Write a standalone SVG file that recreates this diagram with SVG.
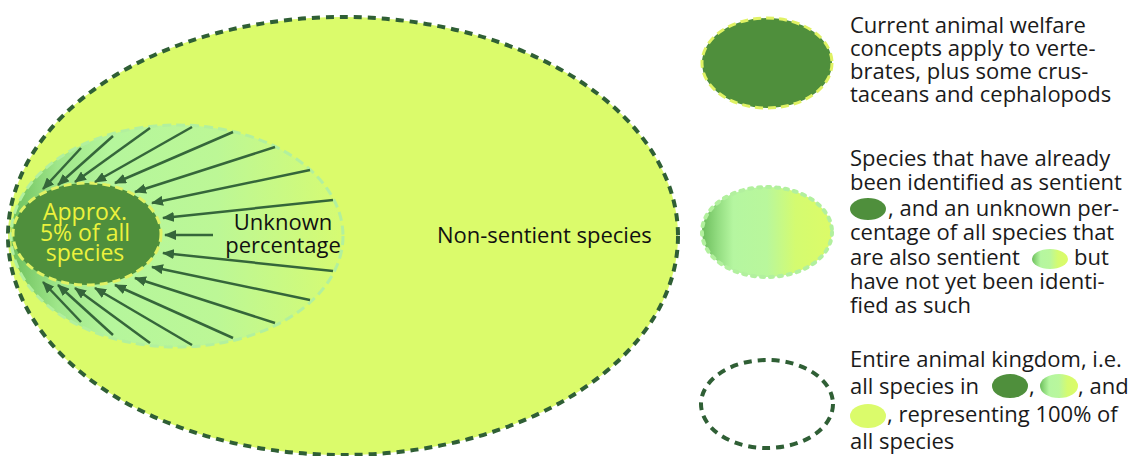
<svg xmlns="http://www.w3.org/2000/svg" width="1135" height="456" viewBox="0 0 1135 456">
  <defs>
    <linearGradient id="sentientGrad" x1="0" y1="0" x2="1" y2="0">
      <stop offset="0" stop-color="#6cbf5c"/>
      <stop offset="0.14" stop-color="#9fe68a"/>
      <stop offset="0.3" stop-color="#b5f69c"/>
      <stop offset="0.62" stop-color="#bcf796"/>
      <stop offset="1" stop-color="#d6fb72"/>
    </linearGradient>
    <linearGradient id="sentientGradLegend" x1="0" y1="0" x2="1" y2="0">
      <stop offset="0" stop-color="#6cbd5c"/>
      <stop offset="0.12" stop-color="#92dc80"/>
      <stop offset="0.24" stop-color="#b5f6a0"/>
      <stop offset="0.5" stop-color="#b9f79c"/>
      <stop offset="0.72" stop-color="#d4fb70"/>
      <stop offset="1" stop-color="#dcfb68"/>
    </linearGradient>
    <marker id="arrowHead" markerUnits="userSpaceOnUse" markerWidth="12" markerHeight="10" refX="11" refY="5" orient="auto">
      <path d="M0,0 L12,5 L0,10 Z" fill="#35663a"/>
    </marker>
  </defs>
  <style>
    .all { fill: #dbfb6b; stroke: #2f5f35; stroke-width: 4; stroke-dasharray: 8 6; }
    .sentient { fill: url(#sentientGrad); stroke: #b2f09e; stroke-width: 3; stroke-dasharray: 9 5; }
    .known { fill: #4f8f3c; stroke: #e0f264; stroke-width: 3; stroke-dasharray: 8 5; }
    .arrow { stroke: #35663a; stroke-width: 2.5; fill: none; marker-end: url(#arrowHead); }
    .label { font-family: "Open Sans", "Liberation Sans", sans-serif; font-size: 22px; fill: #111; }
    .inner { fill: #ecf23c; text-anchor: middle; font-size: 23px; }
    .legend { font-family: "Open Sans", "Liberation Sans", sans-serif; font-size: 22px; fill: #1a1a1a; }
    .chip-dark { fill: #4f8f3c; }
    .chip-grad { fill: url(#sentientGradLegend); }
    .chip-yellow { fill: #dbfb6b; }
  </style>

  <!-- Whole animal kingdom -->
  <g id="animal-kingdom">
    <ellipse class="all" cx="343" cy="236" rx="335" ry="219"/>
    <text class="label" x="437" y="243" font-size="23">Non-sentient species</text>
  </g>

  <!-- Sentient species (identified + not yet identified) -->
  <g id="sentient-species">
    <ellipse class="sentient" cx="177" cy="236" rx="166" ry="111"/>
    <text class="label" text-anchor="middle"><tspan x="283" y="230">Unknown</tspan><tspan x="283" y="253">percentage</tspan></text>
  </g>

  <!-- Species already identified as sentient -->
  <g id="identified-sentient">
    <ellipse class="known" cx="87" cy="234" rx="74" ry="51"/>
    <text class="label inner"><tspan x="85" y="220">Approx.</tspan><tspan x="85" y="241">5% of all</tspan><tspan x="85" y="261">species</tspan></text>
  </g>

  <!-- Arrows converging on the identified group -->
  <g id="connectors">
    <line class="arrow" x1="81" y1="148" x2="43" y2="189"/>
    <line class="arrow" x1="113" y1="136" x2="58" y2="185"/>
    <line class="arrow" x1="150" y1="128" x2="75" y2="182"/>
    <line class="arrow" x1="192" y1="127" x2="95" y2="182"/>
    <line class="arrow" x1="233" y1="132" x2="115" y2="183"/>
    <line class="arrow" x1="275" y1="147" x2="135" y2="192"/>
    <line class="arrow" x1="310" y1="170" x2="152" y2="203"/>
    <line class="arrow" x1="333" y1="200" x2="163" y2="218"/>
    <line class="arrow" x1="213" y1="235" x2="165" y2="235"/>
    <line class="arrow" x1="333" y1="271" x2="163" y2="253"/>
    <line class="arrow" x1="310" y1="300" x2="152" y2="267"/>
    <line class="arrow" x1="275" y1="323" x2="135" y2="278"/>
    <line class="arrow" x1="233" y1="338" x2="115" y2="285"/>
    <line class="arrow" x1="192" y1="345" x2="95" y2="288"/>
    <line class="arrow" x1="150" y1="343" x2="75" y2="288"/>
    <line class="arrow" x1="113" y1="335" x2="58" y2="285"/>
    <line class="arrow" x1="81" y1="322" x2="43" y2="282"/>
  </g>

  <!-- Legend: current welfare concepts -->
  <g id="legend-identified">
    <ellipse class="known" cx="767" cy="63" rx="65" ry="45"/>
    <text class="legend"><tspan x="850" y="33">Current animal welfare</tspan><tspan x="850" y="56">concepts apply to verte-</tspan><tspan x="850" y="79">brates, plus some crus-</tspan><tspan x="850" y="102">taceans and cephalopods</tspan></text>
  </g>

  <!-- Legend: sentient species -->
  <g id="legend-sentient">
    <ellipse cx="767" cy="232" rx="65" ry="45" fill="url(#sentientGradLegend)" stroke="#b2f09e" stroke-width="4" stroke-linecap="round" stroke-dasharray="3 6"/>
    <ellipse class="chip-dark" cx="868" cy="209" rx="18" ry="11"/>
    <ellipse class="chip-grad" cx="1050" cy="259" rx="18" ry="10"/>
    <text class="legend"><tspan x="850" y="166">Species that have already</tspan><tspan x="850" y="190">been identified as sentient</tspan><tspan x="888" y="216">, and an unknown per-</tspan><tspan x="850" y="240">centage of all species that</tspan><tspan x="850" y="265">are also sentient</tspan><tspan x="1074" y="265">but</tspan><tspan x="850" y="289">have not yet been identi-</tspan><tspan x="850" y="313">fied as such</tspan></text>
  </g>

  <!-- Legend: entire animal kingdom -->
  <g id="legend-kingdom">
    <ellipse cx="767" cy="404" rx="66" ry="44" fill="none" stroke="#2f5f35" stroke-width="4" stroke-dasharray="8 6"/>
    <ellipse class="chip-dark" cx="1010" cy="386" rx="18" ry="12"/>
    <ellipse class="chip-grad" cx="1059" cy="386" rx="19" ry="12"/>
    <ellipse class="chip-yellow" cx="868" cy="416" rx="18" ry="12"/>
    <text class="legend"><tspan x="850" y="367">Entire animal kingdom, i.e.</tspan><tspan x="850" y="394">all species in</tspan><tspan x="1029" y="394">,</tspan><tspan x="1078" y="394">, and</tspan><tspan x="887" y="422">, representing 100% of</tspan><tspan x="850" y="449">all species</tspan></text>
  </g>
</svg>
